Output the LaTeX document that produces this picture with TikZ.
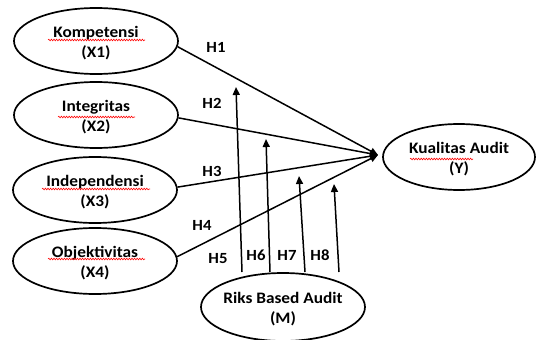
\documentclass[tikz,border=0pt]{standalone}
\usepackage{fontspec}
\setmainfont{Carlito}[FakeStretch=1.08]
\usetikzlibrary{arrows.meta,decorations.pathmorphing,shapes.geometric}
\begin{document}
\begin{tikzpicture}[x=1pt,y=-1pt,
  var/.style={draw,ellipse,line width=1.7pt,minimum width=164pt,minimum height=66pt,inner sep=0pt},
  txt/.style={align=center,font=\fontsize{16}{20}\selectfont\bfseries,inner sep=0pt,yshift=-2pt},
  hl/.style={font=\fontsize{15.5}{18}\selectfont\bfseries,inner sep=0pt},
  arr/.style={line width=1.5pt,-{Triangle[length=8pt,width=7pt]}},
  wave/.style={red,line width=0.6pt,decorate,decoration={snake,amplitude=0.8pt,segment length=2.6pt}}]
\useasboundingbox (0,0) rectangle (536,340);
\node[var,label={[txt]center:Kompetensi\\(X1)}] (x1) at (96,41) {};
\node[var,label={[txt]center:Integritas\\(X2)}] (x2) at (96,115) {};
\node[var,label={[txt]center:Independensi\\(X3)}] (x3) at (95,190) {};
\node[var,label={[txt]center:Objektivitas\\(X4)}] (x4) at (95,261) {};
\node[var,minimum width=152pt,label={[txt]center:Kualitas Audit\\(Y)}] (y) at (459,157) {};
\node[var,minimum width=164pt,minimum height=68pt,label={[txt]center:Riks Based Audit\\(M)}] (m) at (283,307) {};
\coordinate (tip) at (378,155);
\draw[arr] (x1.-4) -- (tip);
\draw[arr] (x2.-2) -- (tip);
\draw[arr] (x3.2) -- (tip);
\draw[arr] (x4.3) -- (tip);
\coordinate (m5) at (242,272); \coordinate (t5) at (236,87);
\coordinate (m6) at (270,272); \coordinate (t6) at (266,139);
\coordinate (m7) at (305,272); \coordinate (t7) at (299,176);
\coordinate (m8) at (339,272); \coordinate (t8) at (334,184);
\draw[arr] (m5) -- (t5);
\draw[arr] (m6) -- (t6);
\draw[arr] (m7) -- (t7);
\draw[arr] (m8) -- (t8);
\node[hl] (h1) at (216,47) {H1};
\node[hl] (h2) at (212,103) {H2};
\node[hl] (h3) at (212,171) {H3};
\node[hl] (h4) at (202,225) {H4};
\node[hl] (h5) at (218,259) {H5};
\node[hl] (h6) at (256,255) {H6};
\node[hl] (h7) at (287,255) {H7};
\node[hl] (h8) at (320,255) {H8};
\draw[wave] (48,40) -- (145,40);
\draw[wave] (58,117) -- (135,117);
\draw[wave] (42,189) -- (150,189);
\draw[wave] (48,259) -- (145,259);
\draw[wave] (410,159) -- (473,159);
\end{tikzpicture}
\end{document}
